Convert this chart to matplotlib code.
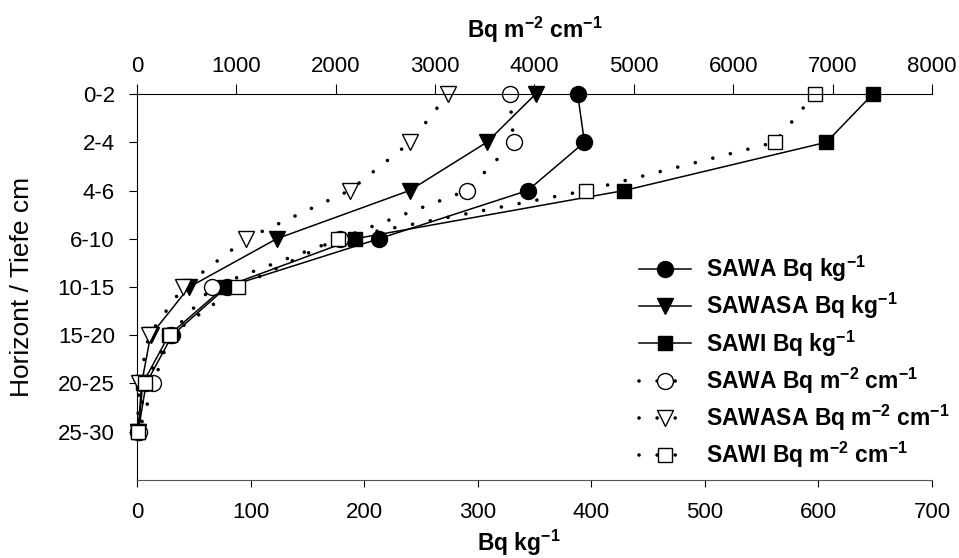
import numpy as np
import matplotlib.pyplot as plt

plt.rcParams['font.family'] = ['Liberation Sans', 'DejaVu Sans']
plt.rcParams['mathtext.fontset'] = 'custom'
plt.rcParams['mathtext.rm'] = 'Liberation Sans:bold'
plt.rcParams['mathtext.default'] = 'rm'

depths = ["0-2", "2-4", "4-6", "6-10", "10-15", "15-20", "20-25", "25-30"]

# Bq kg-1 (bottom axis)
sawa_kg = [388, 394, 344, 213, 79, 31, 8, 1]
sawasa_kg = [351, 308, 240, 123, 46, 12, 4, 1]
sawi_kg = [648, 607, 429, 192, 77, 28, 5, 1]

# Bq m-2 cm-1 (top axis)
sawa_m2 = [3750, 3790, 3320, 2040, 755, 330, 165, 20]
sawasa_m2 = [3130, 2750, 2140, 1100, 465, 120, 20, 5]
sawi_m2 = [6820, 6420, 4520, 2020, 1015, 330, 80, 10]

y = np.arange(len(depths))

fig = plt.figure(figsize=(9.59, 5.58), dpi=100)
ax = fig.add_axes([0.1429, 0.1398, 0.8289, 0.6917])
ax2 = ax.twiny()

dot = (0, (0.01, 5.0))
lk = dict(color="black", lw=1.1, clip_on=False)
ld = dict(color="black", lw=2.6, linestyle=dot, dash_capstyle="round", clip_on=False)

ax.plot(sawa_kg, y, marker="o", ms=11.5, mfc="black", mec="black",
        label=r"SAWA Bq kg$^{-1}$", **lk)
ax.plot(sawasa_kg, y, marker="v", ms=11.5, mfc="black", mec="black",
        label=r"SAWASA Bq kg$^{-1}$", **lk)
ax.plot(sawi_kg, y, marker="s", ms=10, mfc="black", mec="black",
        label=r"SAWI Bq kg$^{-1}$", **lk)

ax2.plot(sawa_m2, y, marker="o", ms=11.5, mfc="white", mec="black", mew=1.0,
         label=r"SAWA Bq m$^{-2}$ cm$^{-1}$", **ld)
ax2.plot(sawasa_m2, y, marker="v", ms=11.5, mfc="white", mec="black", mew=1.0,
         label=r"SAWASA Bq m$^{-2}$ cm$^{-1}$", **ld)
ax2.plot(sawi_m2, y, marker="s", ms=10, mfc="white", mec="black", mew=1.0,
         label=r"SAWI Bq m$^{-2}$ cm$^{-1}$", **ld)

ax.set_xlim(0, 700)
ax2.set_xlim(0, 8000)
ax.set_ylim(8, 0)
ax.set_yticks(y)
ax.set_yticklabels(depths, fontsize=16)
ax.set_xticks(np.arange(0, 701, 100))
ax2.set_xticks(np.arange(0, 8001, 1000))
ax.tick_params(axis="x", labelsize=16, length=5, direction="out", pad=11)
ax2.tick_params(axis="x", labelsize=16, length=7, direction="out", pad=5)
ax.tick_params(axis="y", length=6, direction="out", pad=10)

for a in (ax, ax2):
    a.spines["right"].set_visible(False)
ax.spines["top"].set_visible(False)
ax2.spines["bottom"].set_visible(False)
ax2.spines["left"].set_visible(False)
ax.spines["bottom"].set_color("#555555")

ax.set_xlabel(r"Bq kg$^{-1}$", fontsize=16.5, fontweight="bold")
ax.xaxis.set_label_coords(0.48, -0.125)
ax2.set_xlabel(r"Bq m$^{-2}$ cm$^{-1}$", fontsize=16.5, fontweight="bold", labelpad=13)
ax.set_ylabel("Horizont / Tiefe cm", fontsize=19)
ax.yaxis.set_label_coords(-0.13, 0.5)

h1, l1 = ax.get_legend_handles_labels()
h2, l2 = ax2.get_legend_handles_labels()
ax2.legend(h1 + h2, l1 + l2, loc="upper left", bbox_to_anchor=(0.631, 0.585),
           frameon=False, prop={"weight": "bold", "size": 16.5},
           handlelength=2.3, labelspacing=0.3, handletextpad=0.65,
           borderpad=0, borderaxespad=0)

fig.savefig("out.png", dpi=100)
